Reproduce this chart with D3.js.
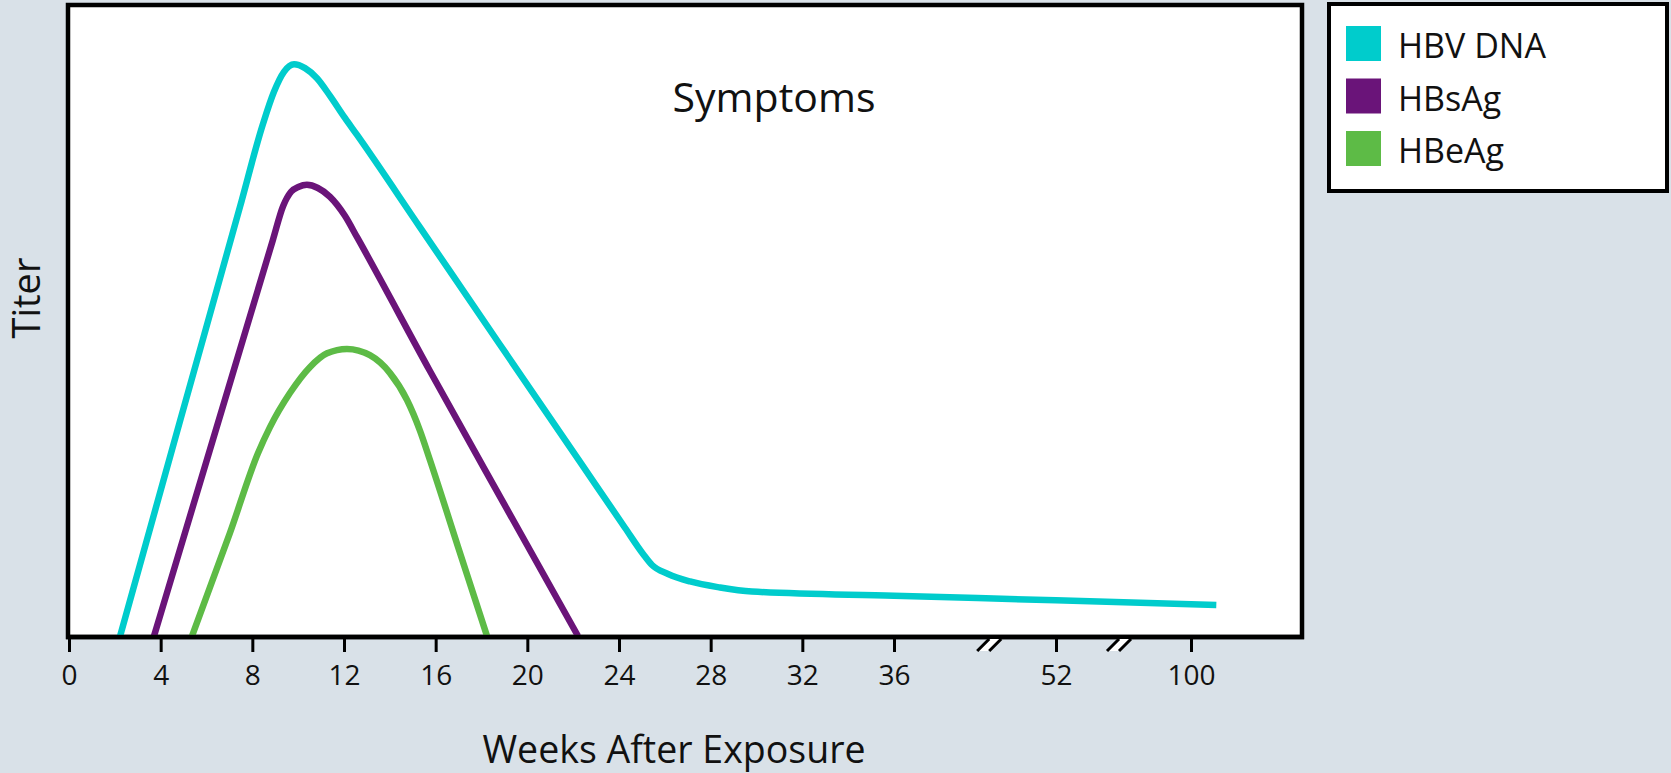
<!DOCTYPE html>
<html>
<head>
<meta charset="utf-8">
<script src="https://cdn.jsdelivr.net/npm/d3@7"></script>
<style>
  html, body { margin: 0; padding: 0; background: #d9e1e8; }
  svg { display: block; }
  text { font-family: "Open Sans", "Noto Sans", sans-serif; fill: #111; }
</style>
</head>
<body>
<svg id="chart" width="1671" height="773"></svg>
<script>
// ---- Data (weeks after exposure, relative titer 0-100) ----
const seriesNames = ["HBV DNA", "HBsAg", "HBeAg"];
const seriesColors = ["#00cccc", "#6a1479", "#5dbb46"];

const dnaWeeks = [2.23, 4.84, 7.46, 8.46, 8.94, 9.38, 9.82, 10.30, 10.82, 11.39, 12.04, 12.57, 15.31, 18.80, 22.30, 24.26, 25.05, 25.44, 26.14, 27.10, 28.41, 29.80, 36, 52, 109];
const dnaTiter = [0, 34.0, 68.0, 81.1, 86.2, 89.4, 90.6, 90.0, 88.4, 85.6, 82.1, 79.4, 64.8, 46.2, 27.6, 17.16, 13.0, 11.25, 9.83, 8.64, 7.69, 7.05, 6.37, 5.66, 4.9];

const sagWeeks = [3.71, 6.28, 8.90, 9.34, 9.69, 10.03, 10.38, 10.86, 11.39, 12.04, 12.57, 15.75, 19.02, 22.21];
const sagTiter = [0, 31.1, 62.8, 68.1, 70.4, 71.2, 71.5, 71.0, 69.6, 66.6, 63.2, 42.0, 20.7, 0];

const eagWeeks = [5.37, 7.02, 8.25, 8.77, 9.64, 10.51, 11.26, 12.13, 13.13, 14.0, 14.75, 15.31, 15.75, 16.97, 18.24];
const eagTiter = [0, 16.3, 29.0, 33.1, 38.5, 42.6, 44.8, 45.5, 44.5, 41.7, 37.4, 32.6, 27.9, 14.2, 0];

const tickWeeks = [0, 4, 8, 12, 16, 20, 24, 28, 32, 36, 52, 100];
const axisBreakWeeks = [45.4, 74.4];

const annotation = "Symptoms";
const xTitle = "Weeks After Exposure";
const yTitle = "Titer";

// ---- Layout ----
const svg = d3.select("#chart");
const plot = { left: 68, top: 5, right: 1302, bottom: 637 };

// Broken (piecewise linear) x scale
const x = d3.scaleLinear()
  .domain([0, 36, 52, 100])
  .range([69, 894, 1056, 1191]);
const y = d3.scaleLinear().domain([0, 100]).range([636, 5]);

// Plot frame
svg.append("rect")
  .attr("x", plot.left).attr("y", plot.top)
  .attr("width", plot.right - plot.left).attr("height", plot.bottom - plot.top)
  .attr("fill", "#fff").attr("stroke", "#000").attr("stroke-width", 4.5);

// Lines
const line = d3.line()
  .x(d => x(d[0])).y(d => y(d[1]))
  .curve(d3.curveMonotoneX);

const series = [
  d3.zip(dnaWeeks, dnaTiter),
  d3.zip(sagWeeks, sagTiter),
  d3.zip(eagWeeks, eagTiter)
];

[2, 1, 0].forEach(i => {
  svg.append("path")
    .datum(series[i])
    .attr("d", line)
    .attr("fill", "none")
    .attr("stroke", seriesColors[i])
    .attr("stroke-width", 6.5)
    .attr("stroke-linejoin", "round");
});

// Re-draw bottom edge of frame over the line ends
svg.append("line")
  .attr("x1", plot.left - 2).attr("x2", plot.right + 2)
  .attr("y1", plot.bottom).attr("y2", plot.bottom)
  .attr("stroke", "#000").attr("stroke-width", 4.5);

// X axis
const xAxis = d3.axisBottom(x)
  .tickValues(tickWeeks)
  .tickFormat(d3.format("d"))
  .tickSize(15)
  .tickPadding(13);

const gx = svg.append("g")
  .attr("transform", `translate(0,${plot.bottom})`)
  .call(xAxis);
gx.select(".domain").remove();
gx.selectAll(".tick line").attr("stroke", "#000").attr("stroke-width", 3);
gx.selectAll(".tick text")
  .style("font-family", "'Open Sans', sans-serif")
  .style("font-size", "28px")
  .attr("fill", "#111");

// Axis break marks
axisBreakWeeks.forEach(w => {
  const cx = x(w), cy = plot.bottom + 8;
  const g = svg.append("g").attr("transform", `translate(${cx},${cy})`);
  g.append("polygon")
    .attr("points", "-11,6 1,-6 11,-6 -1,6")
    .attr("fill", "#fff");
  g.append("line").attr("x1", -12).attr("y1", 6).attr("x2", 0).attr("y2", -6)
    .attr("stroke", "#000").attr("stroke-width", 3);
  g.append("line").attr("x1", 0).attr("y1", 6).attr("x2", 12).attr("y2", -6)
    .attr("stroke", "#000").attr("stroke-width", 3);
});

// Titles
svg.append("text")
  .attr("x", 674).attr("y", 763)
  .attr("text-anchor", "middle")
  .style("font-size", "37.5px")
  .text(xTitle);

svg.append("text")
  .attr("transform", "translate(40,298) rotate(-90)")
  .attr("text-anchor", "middle")
  .style("font-size", "38px")
  .text(yTitle);

svg.append("text")
  .attr("x", 774).attr("y", 112)
  .attr("text-anchor", "middle")
  .style("font-size", "41px")
  .text(annotation);

// Legend
const legend = svg.append("g");
legend.append("rect")
  .attr("x", 1329).attr("y", 4).attr("width", 338).attr("height", 187)
  .attr("fill", "#fff").attr("stroke", "#000").attr("stroke-width", 4);

seriesNames.forEach((name, i) => {
  const yy = 26 + i * 52.5;
  legend.append("rect")
    .attr("x", 1346).attr("y", yy).attr("width", 35).attr("height", 35)
    .attr("fill", seriesColors[i]);
  legend.append("text")
    .attr("x", 1398).attr("y", yy + 32)
    .style("font-size", "34px")
    .text(name);
});
</script>
</body>
</html>
